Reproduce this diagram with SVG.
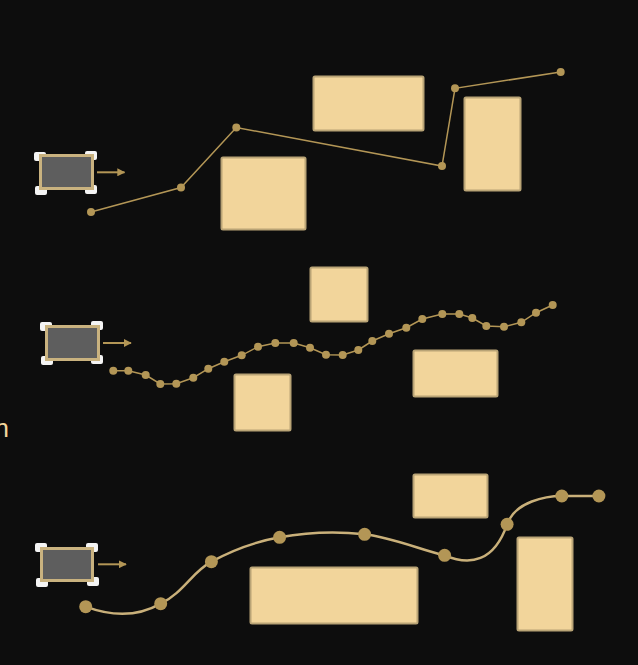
<svg xmlns="http://www.w3.org/2000/svg" width="638" height="665" viewBox="0 0 638 665">
<style>
.bg{fill:#0d0d0d}
.ob{fill:#f2d59b;stroke:#b9a476;stroke-width:2}
.body{fill:#5e5e5e;stroke:#c9b27f;stroke-width:3}
.hd{fill:#f4f4f4}
.arr{stroke:#b39656;stroke-width:2;fill:none}
.ln{stroke:#b39656;stroke-width:1.5;fill:none}
.curve{stroke:#c9b07a;stroke-width:2.5;fill:none}
.dot{fill:#b39656}
.lbl{font-family:"Liberation Sans",Arial,sans-serif;font-size:26px;fill:#f2d59b}
</style>
<defs>
<marker id="ah" viewBox="0 0 10 10" refX="9" refY="5" markerWidth="4" markerHeight="4" orient="auto">
<path d="M0,0 L10,5 L0,10 z" fill="#b39656"/>
</marker>
</defs>
<rect class="bg" x="0" y="0" width="638" height="665"/>
<text class="lbl" x="9" y="437" text-anchor="end">n</text>

<g id="obstacles-top">
<rect class="ob" x="313.5" y="76.5" width="110" height="54" rx="1.5"/>
<rect class="ob" x="221.5" y="157.5" width="84" height="72" rx="1.5"/>
<rect class="ob" x="464.5" y="97.5" width="56" height="93" rx="1.5"/>
</g>
<g id="obstacles-mid">
<rect class="ob" x="310.5" y="267.5" width="57" height="54" rx="1.5"/>
<rect class="ob" x="234.5" y="374.5" width="56" height="56" rx="1.5"/>
<rect class="ob" x="413.5" y="350.5" width="84" height="46" rx="1.5"/>
</g>
<g id="obstacles-bottom">
<rect class="ob" x="413.5" y="474.5" width="74" height="43" rx="1.5"/>
<rect class="ob" x="250.5" y="567.5" width="167" height="56" rx="1.5"/>
<rect class="ob" x="517.5" y="537.5" width="55" height="93" rx="1.5"/>
</g>

<g id="device-top">
<rect class="hd" x="34" y="152" width="12" height="9" rx="2"/>
<rect class="hd" x="85" y="151" width="12" height="9" rx="2"/>
<rect class="hd" x="35" y="186" width="12" height="9" rx="2"/>
<rect class="hd" x="85" y="185" width="12" height="9" rx="2"/>
<rect class="body" x="40.5" y="155.5" width="52" height="33"/>
</g>
<g id="device-mid">
<rect class="hd" x="40" y="322" width="12" height="9" rx="2"/>
<rect class="hd" x="91" y="321" width="12" height="9" rx="2"/>
<rect class="hd" x="41" y="356" width="12" height="9" rx="2"/>
<rect class="hd" x="91" y="355" width="12" height="9" rx="2"/>
<rect class="body" x="46.5" y="326.5" width="52" height="33"/>
</g>
<g id="device-bottom">
<rect class="hd" x="35" y="543" width="12" height="9" rx="2"/>
<rect class="hd" x="86" y="543" width="12" height="9" rx="2"/>
<rect class="hd" x="36" y="578" width="12" height="9" rx="2"/>
<rect class="hd" x="87" y="577" width="12" height="9" rx="2"/>
<rect class="body" x="41.5" y="548.5" width="51" height="32"/>
</g>

<g id="connectors">
<line class="arr" x1="97" y1="172.3" x2="124.5" y2="172.3" marker-end="url(#ah)"/>
<line class="arr" x1="103" y1="343" x2="131" y2="343" marker-end="url(#ah)"/>
<line class="arr" x1="98" y1="564.3" x2="126" y2="564.3" marker-end="url(#ah)"/>

<polyline class="ln" points="91,212 181,187.5 236.3,127.5 442,166 455,88.3 560.7,72"/>
<g class="dot">
<circle cx="91" cy="212" r="4"/><circle cx="181" cy="187.5" r="4"/><circle cx="236.3" cy="127.5" r="4"/>
<circle cx="442" cy="166" r="4"/><circle cx="455" cy="88.3" r="4"/><circle cx="560.7" cy="72" r="4"/>
</g>

<polyline class="ln" points="113.3,370.7 128.3,370.7 145.7,375 160.3,384 176.3,383.7 193.3,377.7 208.3,368.7 224.3,361.7 241.7,355.3 258,346.7 275.3,343 293.7,343 310,347.7 326,354.7 342.7,355 358.3,350 372.3,341 389,333.7 406.3,327.7 422.3,319 442.3,314 459.3,314 472.3,318 486.3,326 504,326.7 521.3,322.3 536,312.7 552.7,305"/>
<g class="dot">
<circle cx="113.3" cy="370.7" r="4"/><circle cx="128.3" cy="370.7" r="4"/><circle cx="145.7" cy="375" r="4"/>
<circle cx="160.3" cy="384" r="4"/><circle cx="176.3" cy="383.7" r="4"/><circle cx="193.3" cy="377.7" r="4"/>
<circle cx="208.3" cy="368.7" r="4"/><circle cx="224.3" cy="361.7" r="4"/><circle cx="241.7" cy="355.3" r="4"/>
<circle cx="258" cy="346.7" r="4"/><circle cx="275.3" cy="343" r="4"/><circle cx="293.7" cy="343" r="4"/>
<circle cx="310" cy="347.7" r="4"/><circle cx="326" cy="354.7" r="4"/><circle cx="342.7" cy="355" r="4"/>
<circle cx="358.3" cy="350" r="4"/><circle cx="372.3" cy="341" r="4"/><circle cx="389" cy="333.7" r="4"/>
<circle cx="406.3" cy="327.7" r="4"/><circle cx="422.3" cy="319" r="4"/><circle cx="442.3" cy="314" r="4"/>
<circle cx="459.3" cy="314" r="4"/><circle cx="472.3" cy="318" r="4"/><circle cx="486.3" cy="326" r="4"/>
<circle cx="504" cy="326.7" r="4"/><circle cx="521.3" cy="322.3" r="4"/><circle cx="536" cy="312.7" r="4"/>
<circle cx="552.7" cy="305" r="4"/>
</g>

<path class="curve" d="M85.7,606.7 C110.7,616 137.4,617 160.7,603.7 C184,592 191.4,572.7 211.4,561.7 C231.4,550.7 254.1,541.9 279.6,537.3 C305.1,532.7 337.1,531.3 364.6,534.3 C392.1,537.3 424.6,551.3 444.6,555.3 C470,566 494,562 507.1,524.3 C515.1,501.3 546.8,496 561.8,496 C576.8,496 586.9,496 598.9,496"/>
<g class="dot">
<circle cx="85.7" cy="606.7" r="6.5"/><circle cx="160.7" cy="603.7" r="6.5"/><circle cx="211.4" cy="561.7" r="6.5"/>
<circle cx="279.6" cy="537.3" r="6.5"/><circle cx="364.6" cy="534.3" r="6.5"/><circle cx="444.6" cy="555.3" r="6.5"/>
<circle cx="507.1" cy="524.3" r="6.5"/><circle cx="561.8" cy="496" r="6.5"/><circle cx="598.9" cy="496" r="6.5"/>
</g>
</g>
</svg>
